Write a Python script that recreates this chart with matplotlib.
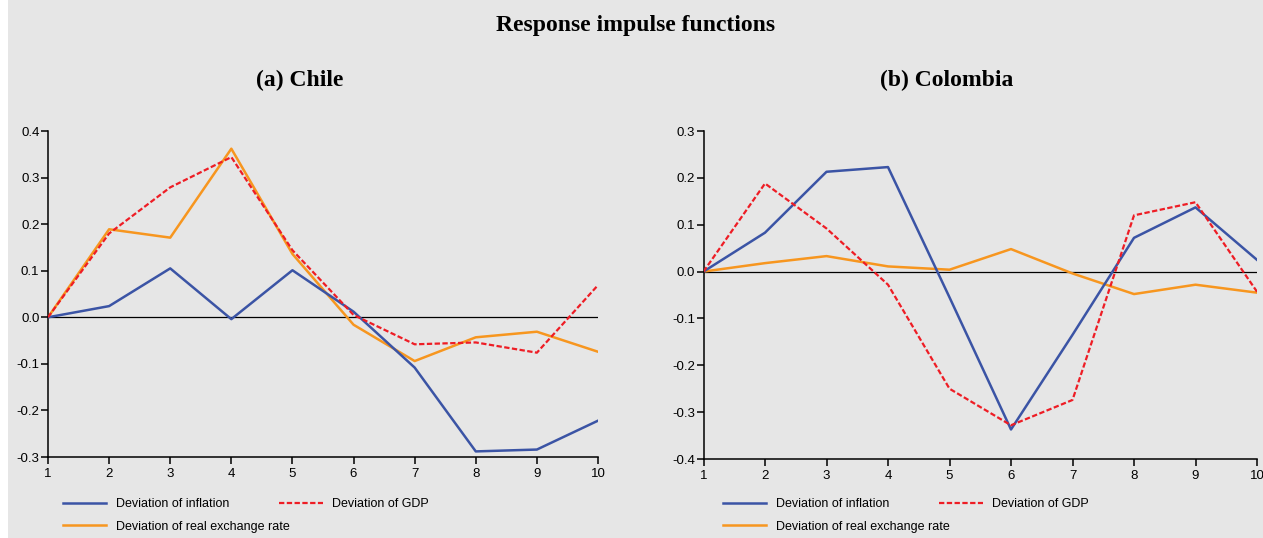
import matplotlib.pyplot as plt
from matplotlib.patches import Rectangle
import numpy as np

# データ
periods = [1, 2, 3, 4, 5, 6, 7, 8, 9, 10]

chile_inflation = [0.0, 0.024, 0.105, -0.004, 0.101, 0.012, -0.108, -0.288, -0.284, -0.222]
chile_gdp = [0.0, 0.180, 0.279, 0.344, 0.144, 0.005, -0.058, -0.054, -0.076, 0.069]
chile_rer = [0.0, 0.189, 0.171, 0.362, 0.136, -0.016, -0.094, -0.043, -0.031, -0.074]

colombia_inflation = [0.0, 0.083, 0.213, 0.223, -0.055, -0.337, -0.135, 0.072, 0.137, 0.025]
colombia_gdp = [0.0, 0.188, 0.092, -0.028, -0.250, -0.328, -0.274, 0.120, 0.148, -0.043]
colombia_rer = [0.0, 0.018, 0.033, 0.011, 0.004, 0.048, -0.004, -0.048, -0.028, -0.045]

chile_yticks = [-0.3, -0.2, -0.1, 0.0, 0.1, 0.2, 0.3, 0.4]
colombia_yticks = [-0.4, -0.3, -0.2, -0.1, 0.0, 0.1, 0.2, 0.3]

labels = ['Deviation of inflation', 'Deviation of GDP', 'Deviation of real exchange rate']


def panel(fig, rect, infl, gdp, rer, yticks, leg_x):
    ax = fig.add_axes(rect)
    ax.set_facecolor('none')
    ax.axhline(0, color='black', lw=0.9, zorder=1)
    g1, = ax.plot(periods, infl, color='#3b54a5', lw=1.8, label=labels[0], zorder=3)
    g2, = ax.plot(periods, gdp, color='#ee1d25', lw=1.6, dashes=(2.4, 1.1), label=labels[1], zorder=4)
    g3, = ax.plot(periods, rer, color='#f7961f', lw=1.8, label=labels[2], zorder=2)

    ax.set_xlim(1, 10)
    ax.set_ylim(yticks[0], yticks[-1])
    ax.set_xticks(periods)
    ax.set_yticks(yticks)
    ax.set_yticklabels(['{:.1f}'.format(v) for v in yticks])
    for s in ['top', 'right']:
        ax.spines[s].set_visible(False)
    for s in ['left', 'bottom']:
        ax.spines[s].set_linewidth(1.1)
    ax.tick_params(axis='both', direction='out', length=5, width=1.1, labelsize=9.5, colors='black')
    ax.tick_params(axis='y', pad=1.2)
    ax.tick_params(axis='x', pad=3)
    ax.margins(0)

    # 凡例 (2列, 行優先)
    kw = dict(loc='upper left', bbox_transform=fig.transFigure, frameon=False,
              borderaxespad=0, borderpad=0, handlelength=3.5, handletextpad=0.75,
              labelspacing=0.85, fontsize=9)
    top = 1 - 498 / 538
    l1 = ax.legend(handles=[g1, g3], bbox_to_anchor=(leg_x / 1263, top), **kw)
    ax.add_artist(l1)
    ax.legend(handles=[g2], bbox_to_anchor=((leg_x + 216.5) / 1263, top), **kw)
    return ax


def main():
    plt.rcParams['font.family'] = 'Liberation Sans'
    fig = plt.figure(figsize=(12.63, 5.38), dpi=100, facecolor='#e6e6e6')
    # 左端の白い帯
    fig.patches.append(Rectangle((0, 0), 8 / 1263, 1, transform=fig.transFigure,
                                 facecolor='white', edgecolor='none', zorder=-1))

    W, H = 1263, 538
    panel(fig, [48 / W, 1 - 457 / H, 550 / W, 326 / H],
          chile_inflation, chile_gdp, chile_rer, chile_yticks, 62.7)
    panel(fig, [703.5 / W, 1 - 459 / H, 553.5 / W, 328 / H],
          colombia_inflation, colombia_gdp, colombia_rer, colombia_yticks, 722.7)

    fig.text(635.5 / W, 1 - 25 / H, 'Response impulse functions', ha='center', va='center',
             family='Liberation Serif', weight='bold', fontsize=17)
    fig.text(299.5 / W, 1 - 80 / H, '(a) Chile', ha='center', va='center',
             family='Liberation Serif', weight='bold', fontsize=17)
    fig.text(947 / W, 1 - 80 / H, '(b) Colombia', ha='center', va='center',
             family='Liberation Serif', weight='bold', fontsize=17)

    plt.savefig('out.png', dpi=100, facecolor=fig.get_facecolor())


if __name__ == '__main__': main()
